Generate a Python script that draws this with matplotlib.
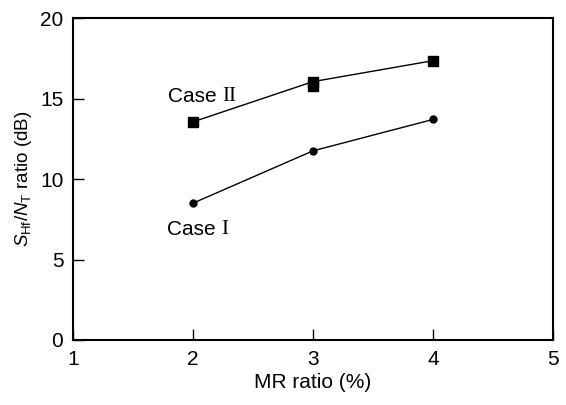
import matplotlib.pyplot as plt

plt.rcParams['font.family'] = ['Liberation Sans', 'DejaVu Sans']
plt.rcParams['mathtext.fontset'] = 'custom'
plt.rcParams['mathtext.rm'] = 'Liberation Sans'
plt.rcParams['mathtext.it'] = 'Liberation Sans:italic'

# datos
mr_ratio = [2, 3, 4]
caso_1 = [8.5, 11.75, 13.7]
caso_2 = [13.55, 16.05, 17.35]
# marcador extra en x=3 para el caso II
caso_2_extra_x = [3]
caso_2_extra_y = [15.8]

fig = plt.figure(figsize=(5.66, 4.05), dpi=100)
ax = fig.add_axes([0.129, 0.1605, 0.848, 0.795])

ax.plot(mr_ratio, caso_1, color='black', lw=1, marker='o', ms=5)
ax.plot(mr_ratio, caso_2, color='black', lw=1, marker='s', ms=7)
ax.plot(caso_2_extra_x, caso_2_extra_y, color='black', ls='none', marker='s', ms=7)

# etiquetas: "Case" en sans, el numero romano en serif
t2 = ax.text(1.79, 14.78, 'Case ', fontsize=15, family='Liberation Sans',
             ha='left', va='baseline')
ax.annotate('II', xy=(1, 0), xycoords=t2, fontsize=15, family='Liberation Serif',
            ha='left', va='bottom')
t1 = ax.text(1.78, 6.52, 'Case ', fontsize=15, family='Liberation Sans',
             ha='left', va='baseline')
ax.annotate('I', xy=(1, 0), xycoords=t1, fontsize=15, family='Liberation Serif',
            ha='left', va='bottom')

ax.set_xlim(1, 5)
ax.set_ylim(0, 20)
ax.set_xticks([1, 2, 3, 4, 5])
ax.set_yticks([0, 5, 10, 15, 20])
ax.tick_params(direction='in', length=8, width=1, labelsize=15, pad=7,
               top=False, right=False)
for s in ax.spines.values():
    s.set_linewidth(1.5)

ax.set_xlabel('MR ratio (%)', fontsize=15, labelpad=3)
ax.set_ylabel(r'$S_{\rm Hf}$/$N_{\rm T}$ ratio (dB)', fontsize=13.5, labelpad=4)

fig.savefig('out.png', dpi=100)
